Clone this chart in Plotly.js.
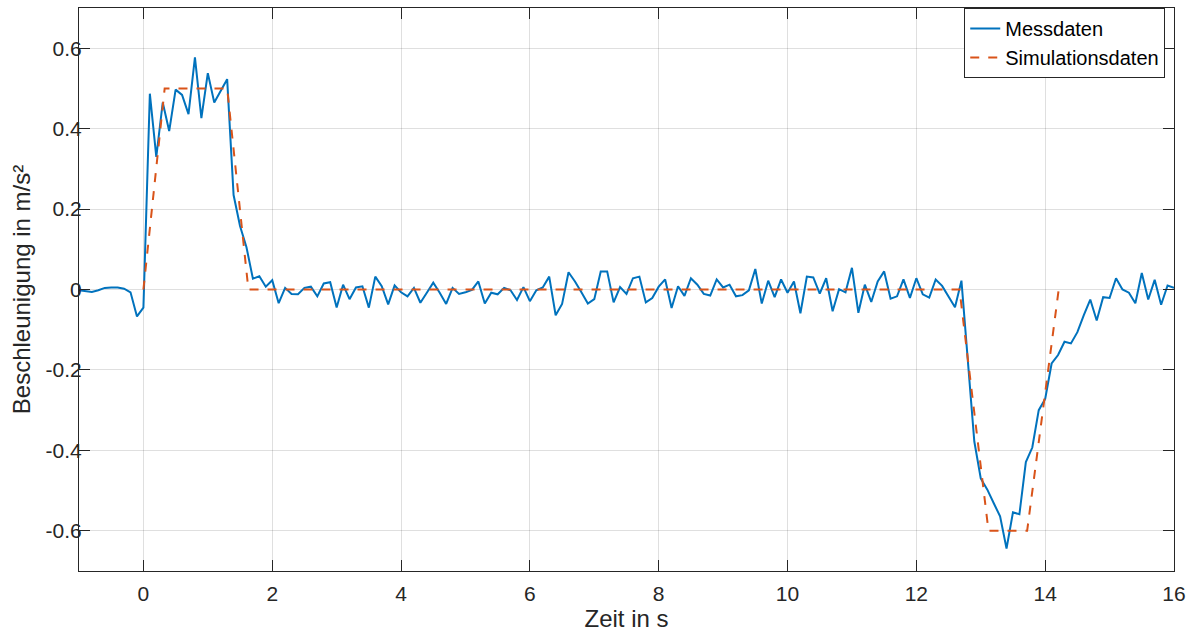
<!DOCTYPE html>
<html>
<head>
<meta charset="utf-8">
<script src="https://cdn.plot.ly/plotly-3.0.1.min.js"></script>
<style>html,body{margin:0;padding:0;background:#fff;}#chart{width:1193px;height:633px;}</style>
</head>
<body>
<div id="chart"></div>
<script>
// Messdaten: sampled every 0.1 s from t = -1 s to t = 16 s
const messStart = -1;
const messStep = 0.1;
const messValues = [
 -0.002,-0.004,-0.006,-0.002,0.004,0.005,0.005,0.002,-0.007,-0.067,
 -0.045,0.487,0.330,0.465,0.394,0.497,0.484,0.436,0.577,0.426,
 0.538,0.465,0.494,0.523,0.235,0.158,0.105,0.027,0.033,0.007,
 0.023,-0.034,0.004,-0.011,-0.012,0.004,0.007,-0.017,0.015,0.018,
 -0.045,0.012,-0.024,0.005,0.008,-0.045,0.032,0.008,-0.037,0.010,
 -0.007,-0.017,0.004,-0.033,-0.008,0.017,-0.008,-0.036,0.004,-0.011,
 -0.007,-0.001,0.020,-0.035,-0.008,-0.012,0.004,-0.002,-0.026,0.006,
 -0.029,-0.002,0.005,0.032,-0.064,-0.036,0.043,0.020,-0.007,-0.035,
 -0.024,0.045,0.045,-0.032,0.006,-0.011,0.028,0.032,-0.032,-0.021,
 0.007,0.025,-0.046,0.008,-0.016,0.028,0.012,-0.011,-0.015,0.025,
 0.005,0.012,-0.017,-0.014,-0.002,0.051,-0.035,0.022,-0.019,0.025,
 -0.008,0.020,-0.059,0.032,0.030,-0.010,0.028,-0.054,0.001,-0.007,
 0.054,-0.058,0.012,-0.031,0.020,0.045,-0.023,-0.017,0.025,-0.021,
 0.028,-0.012,-0.020,0.025,0.009,-0.016,-0.044,0.022,-0.188,-0.378,
 -0.470,-0.497,-0.531,-0.564,-0.644,-0.554,-0.559,-0.429,-0.393,-0.300,
 -0.272,-0.184,-0.163,-0.130,-0.134,-0.106,-0.064,-0.025,-0.077,-0.019,
 -0.021,0.028,0.000,-0.008,-0.034,0.041,-0.025,0.024,-0.038,0.010,
 0.004
];

// Simulationsdaten (breakpoints)
const simTime = [0, 0.33, 1.3, 1.63, 12.67, 13.12, 13.72, 14.21];
const simValues = [0, 0.5, 0.5, 0, 0, -0.6, -0.6, 0];

// Tick labels
const xTickVals = [0, 2, 4, 6, 8, 10, 12, 14, 16];
const xTickText = ["0", "2", "4", "6", "8", "10", "12", "14", "16"];
const yTickVals = [-0.6, -0.4, -0.2, 0, 0.2, 0.4, 0.6];
const yTickText = ["-0.6", "-0.4", "-0.2", "0", "0.2", "0.4", "0.6"];

const axisColor = '#262626';
const gridColor = 'rgba(38,38,38,0.15)';
const fontFamily = '"Liberation Sans", Arial, sans-serif';

const traces = [
  {
    type: 'scatter', mode: 'lines', name: 'Messdaten',
    x0: messStart, dx: messStep, y: messValues,
    line: {color: '#0072BD', width: 2}
  },
  {
    type: 'scatter', mode: 'lines', name: 'Simulationsdaten',
    x: simTime, y: simValues,
    line: {color: '#D95319', width: 2, dash: 'dash'}
  }
];

const commonAxis = {
  showline: true, linecolor: axisColor, linewidth: 1, mirror: 'ticks',
  ticks: 'inside', ticklen: 11, tickcolor: axisColor, tickwidth: 1,
  showgrid: true, gridcolor: gridColor, gridwidth: 1,
  zeroline: false, tickmode: 'array',
  tickfont: {family: fontFamily, size: 21, color: axisColor}
};

const layout = {
  width: 1193, height: 633,
  margin: {l: 79, r: 19, t: 8, b: 62},
  paper_bgcolor: '#ffffff', plot_bgcolor: '#ffffff',
  font: {family: fontFamily, color: axisColor},
  showlegend: true,
  legend: {
    x: 0.992, y: 1.0, xanchor: 'right', yanchor: 'top',
    bgcolor: '#ffffff', bordercolor: axisColor, borderwidth: 1,
    font: {family: fontFamily, size: 20, color: '#000000'},
    tracegroupgap: 0, itemwidth: 30
  },
  xaxis: Object.assign({}, commonAxis, {
    range: [-1, 16], tickvals: xTickVals, ticktext: xTickText,
    ticklabelstandoff: 4,
    title: {text: 'Zeit in s', font: {family: fontFamily, size: 24, color: axisColor}, standoff: 0}
  }),
  yaxis: Object.assign({}, commonAxis, {
    range: [-0.7, 0.7], tickvals: yTickVals, ticktext: yTickText,
    ticklabelstandoff: -8,
    title: {text: 'Beschleunigung in m/s²', font: {family: fontFamily, size: 24, color: axisColor}, standoff: 8}
  })
};

Plotly.newPlot('chart', traces, layout, {displayModeBar: false, staticPlot: true});
</script>
</body>
</html>
